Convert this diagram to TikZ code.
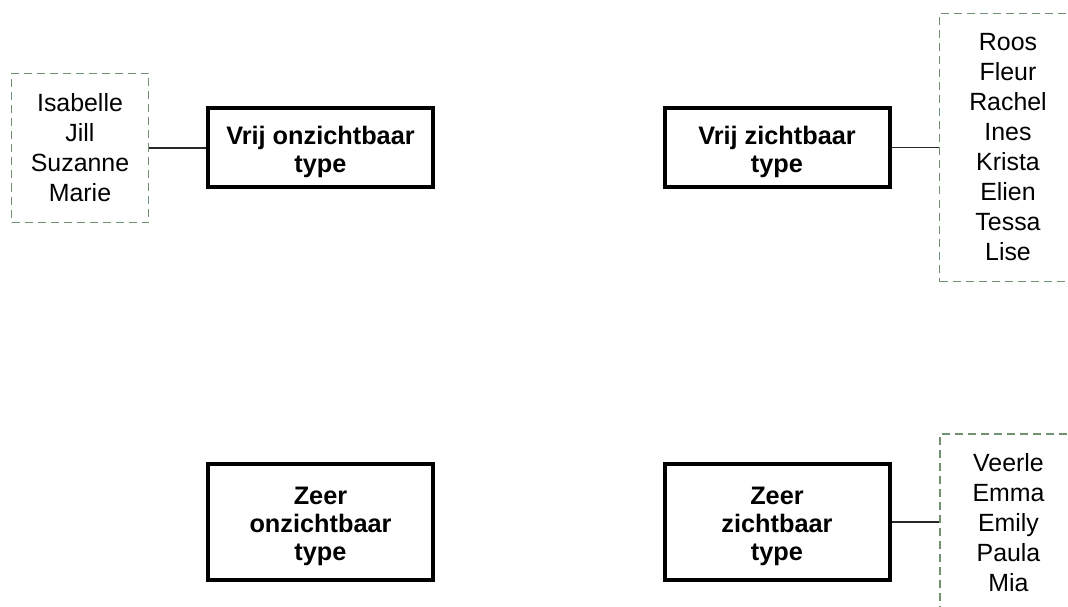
\documentclass[tikz,border=0pt]{standalone}
\usepackage{fontspec}
\setmainfont{Liberation Sans}
\definecolor{listgreen}{RGB}{112,146,112}
\definecolor{linkgray}{RGB}{40,40,40}
\begin{document}
\begin{tikzpicture}[x=1pt,y=-1pt,
  typebox/.style={draw=black, line width=4pt, fill=white, inner sep=0pt,
    minimum width=225pt},
  typetext/.style={inner sep=0pt, align=center, yshift=-4pt,
    font=\fontsize{25.3}{28}\selectfont\bfseries},
  namelist/.style={draw=listgreen, line width=1.1pt, dash pattern=on 8pt off 5pt,
    inner sep=0pt, minimum width=137pt, align=center,
    font=\fontsize{24.9}{30}\selectfont},
  link/.style={draw=linkgray, line width=1.4pt}]
  \useasboundingbox (0,0) rectangle (1068,607);
  \clip (0,0) rectangle (1068,607);

  % the four types: frames, then their labels
  \node[typebox, minimum height=79pt] (vo) at (320.5,147.5) {};
  \node[typebox, minimum height=79pt] (vz) at (777,147.5) {};
  \node[typebox, minimum height=116pt] (zo) at (320.5,522) {};
  \node[typebox, minimum height=116pt] (zz) at (777,522) {};
  \node[typetext] (vo-t) at (vo) {Vrij onzichtbaar\\type};
  \node[typetext] (vz-t) at (vz) {Vrij zichtbaar\\type};
  \node[typetext] (zo-t) at (zo) {Zeer\\onzichtbaar\\type};
  \node[typetext] (zz-t) at (zz) {Zeer\\zichtbaar\\type};

  % name lists
  \node[namelist, minimum height=149pt] (lvo) at (80,148)
    {Isabelle\\Jill\\Suzanne\\Marie};
  \node[namelist, minimum height=268pt] (lvz) at (1008,147.5)
    {Roos\\Fleur\\Rachel\\Ines\\Krista\\Elien\\Tessa\\Lise};
  \node[namelist, minimum height=178pt] (lzz) at (1008.5,523)
    {Veerle\\Emma\\Emily\\Paula\\Mia};

  % connectors, kept horizontal
  \draw[link] (lvo.east) -- (lvo.east -| vo.west);
  \draw[link] (vz.east) -- (vz.east -| lvz.west);
  \draw[link] (zz.east) -- (zz.east -| lzz.west);
\end{tikzpicture}
\end{document}
